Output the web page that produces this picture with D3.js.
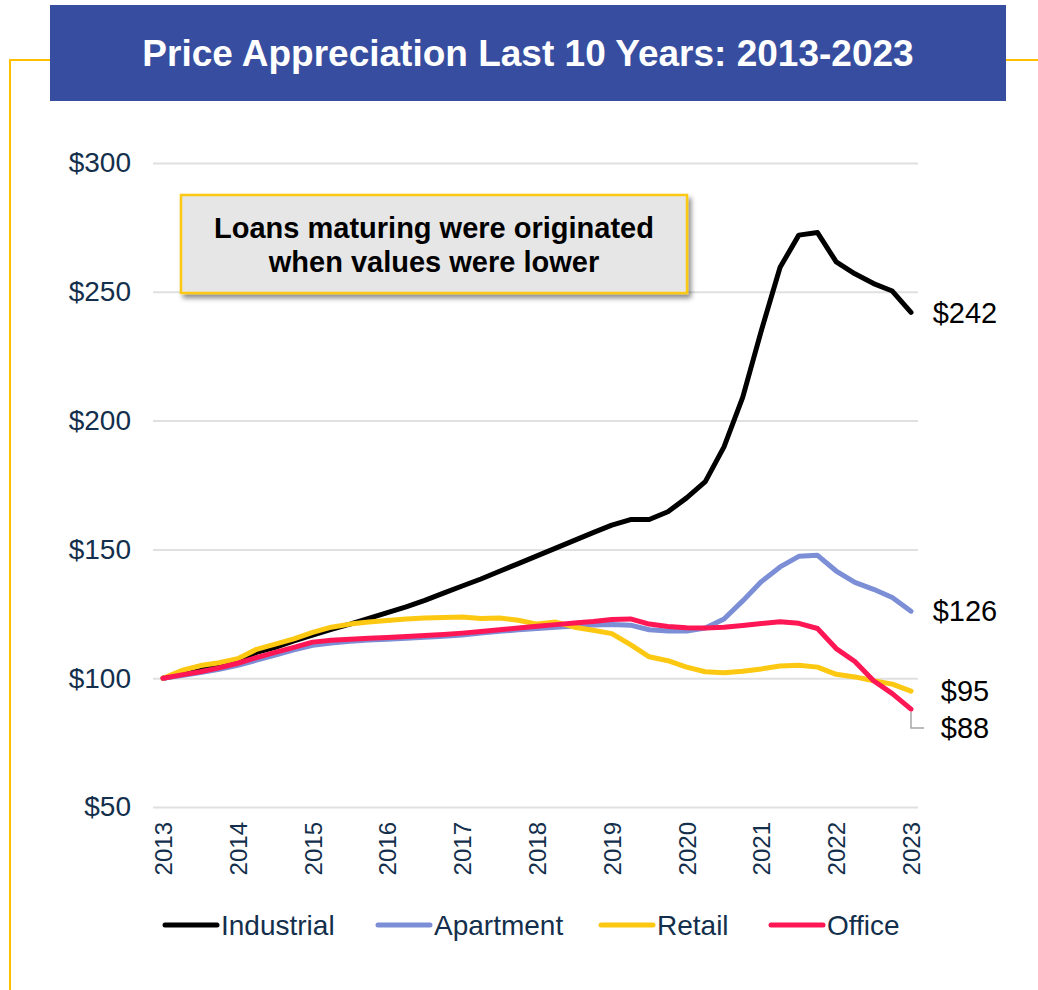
<!DOCTYPE html>
<html>
<head>
<meta charset="utf-8">
<script src="https://cdn.jsdelivr.net/npm/d3@7"></script>
<style>
  html, body { margin: 0; padding: 0; background: #ffffff; }
  svg { display: block; font-family: "Liberation Sans", Arial, sans-serif; }
</style>
</head>
<body>
<svg id="chart" width="1038" height="990"></svg>
<script>
// Quarterly price index, 2013 Q1 = 100
const startYear = 2013;
const yearTicks = [2013, 2014, 2015, 2016, 2017, 2018, 2019, 2020, 2021, 2022, 2023];
const valueTicks = [50, 100, 150, 200, 250, 300];

const industrial = [100, 101.5, 103, 105, 107, 110, 112, 114.5, 116.7, 119, 121, 123.2, 125.5, 127.7, 130.2, 133, 135.8, 138.5, 141.5, 144.5, 147.5, 150.5, 153.5, 156.5, 159.4, 161.6, 161.6, 164.6, 170, 176.3, 189.8, 209, 235, 259.5, 272, 273, 261.6, 257, 253.2, 250.3, 242];
const apartment = [100, 101, 102.2, 103.5, 105, 107, 109, 111, 112.8, 113.7, 114.3, 114.8, 115.1, 115.5, 115.9, 116.3, 116.8, 117.5, 118.2, 118.8, 119.3, 119.8, 120.3, 120.7, 120.8, 120.6, 118.8, 118.3, 118.3, 119.5, 123, 130, 137.5, 143.2, 147.3, 147.7, 141.6, 137.2, 134.5, 131.3, 126];
const retail = [100, 103, 104.9, 106, 107.6, 111.2, 113.2, 115.3, 117.8, 119.8, 121, 121.8, 122.4, 123, 123.4, 123.6, 123.8, 123.2, 123.4, 122.5, 121, 121.8, 119.8, 118.6, 117.3, 113, 108.3, 106.8, 104.3, 102.5, 102.1, 102.7, 103.6, 104.7, 105, 104.3, 101.5, 100.5, 99, 97.7, 95];
const office = [100, 101.3, 102.5, 104, 105.8, 108, 110, 112, 114, 114.7, 115.1, 115.5, 115.8, 116.2, 116.6, 117, 117.5, 118.1, 118.8, 119.5, 120.2, 120.8, 121.4, 122, 122.8, 123, 121, 120.1, 119.6, 119.5, 119.8, 120.5, 121.2, 121.9, 121.3, 119.3, 111.5, 106.5, 99, 94, 88];

const seriesNames = ["Industrial", "Apartment", "Retail", "Office"];
const seriesValues = [industrial, apartment, retail, office];
const seriesColors = ["#000000", "#7b8ed6", "#fcc812", "#ff1654"];

const title = "Price Appreciation Last 10 Years: 2013-2023";
const noteLines = ["Loans maturing were originated", "when values were lower"];

const svg = d3.select("#chart");
const navy = "#132f4c";

// frame and title bar
const frame = "#ffc000";
svg.append("path")
  .attr("d", "M10,990 L10,60 L50,60 M1006,60 L1038,60")
  .attr("fill", "none").attr("stroke", frame).attr("stroke-width", 2);
svg.append("rect").attr("x", 50).attr("y", 5).attr("width", 956).attr("height", 96).attr("fill", "#374ea0");
svg.append("text")
  .attr("x", 528).attr("y", 66)
  .attr("text-anchor", "middle")
  .attr("fill", "#ffffff").attr("font-weight", "bold").attr("font-size", 37)
  .text(title);

// scales
const x = d3.scaleLinear().domain([2013, 2023]).range([163, 911]);
const y = d3.scaleLinear().domain([50, 300]).range([807, 163]);

// gridlines and value axis
const yAxis = d3.axisLeft(y).tickValues(valueTicks).tickSize(-(918 - 153)).tickFormat(d => "$" + d);
const gy = svg.append("g").attr("transform", "translate(153,0)").call(yAxis);
gy.select(".domain").remove();
gy.selectAll(".tick line").attr("stroke", "#e0e0e0").attr("stroke-width", 2);
gy.selectAll(".tick text")
  .attr("x", -22).attr("fill", navy).attr("font-size", 28)
  .attr("font-family", "Liberation Sans, Arial, sans-serif");

// year axis, labels rotated
const xAxis = d3.axisBottom(x).tickValues(yearTicks).tickSize(0).tickFormat(d3.format("d"));
const gx = svg.append("g").attr("transform", "translate(0,807)").call(xAxis);
gx.select(".domain").remove();
gx.selectAll(".tick text")
  .attr("transform", "rotate(-90)")
  .attr("x", -15).attr("y", 0).attr("dy", "0.35em")
  .attr("text-anchor", "end")
  .attr("fill", navy).attr("font-size", 24)
  .attr("font-family", "Liberation Sans, Arial, sans-serif");

// annotation box with drop shadow
const defs = svg.append("defs");
const f = defs.append("filter").attr("id", "shadow").attr("x", "-10%").attr("y", "-20%").attr("width", "130%").attr("height", "160%");
f.append("feDropShadow").attr("dx", 3).attr("dy", 4).attr("stdDeviation", 2.5).attr("flood-color", "#000").attr("flood-opacity", 0.45);
svg.append("rect")
  .attr("x", 181).attr("y", 195).attr("width", 506).attr("height", 98)
  .attr("fill", "#e6e6e6").attr("stroke", "#fcc812").attr("stroke-width", 2.5)
  .attr("filter", "url(#shadow)");
svg.append("text")
  .attr("x", 434).attr("y", 238)
  .attr("text-anchor", "middle").attr("font-weight", "bold").attr("font-size", 29).attr("fill", "#000")
  .selectAll("tspan").data(noteLines).join("tspan")
  .attr("x", 434).attr("dy", (d, i) => i === 0 ? 0 : 34)
  .text(d => d);

// series lines
const line = d3.line()
  .x((d, i) => x(startYear + i / 4))
  .y(d => y(d));
svg.append("g").selectAll("path")
  .data(seriesValues).join("path")
  .attr("d", d => line(d))
  .attr("fill", "none")
  .attr("stroke", (d, i) => seriesColors[i])
  .attr("stroke-width", 5)
  .attr("stroke-linejoin", "round")
  .attr("stroke-linecap", "round");

// end-of-series value labels
const lastX = x(startYear + (industrial.length - 1) / 4);
const labelShift = [0, 0, 0, 19];
seriesValues.forEach((vals, i) => {
  const v = vals[vals.length - 1];
  svg.append("text")
    .attr("x", 965).attr("y", y(v) + labelShift[i])
    .attr("dy", "0.35em")
    .attr("text-anchor", "middle")
    .attr("font-size", 29).attr("fill", "#000")
    .text("$" + d3.format("d")(v));
});
// leader line for the office label
const officeEnd = office[office.length - 1];
svg.append("path")
  .attr("d", `M${lastX},${y(officeEnd) + 3} L${lastX},${y(officeEnd) + 19} L${lastX + 13},${y(officeEnd) + 19}`)
  .attr("fill", "none").attr("stroke", "#a6a6a6").attr("stroke-width", 1.5);

// legend
const legend = svg.append("g").attr("transform", "translate(0,925)");
const legendX = [163, 376, 599, 769];
seriesNames.forEach((name, i) => {
  const g = legend.append("g").attr("transform", `translate(${legendX[i]},0)`);
  g.append("line").attr("x1", 2).attr("x2", 54).attr("y1", 0).attr("y2", 0)
    .attr("stroke", seriesColors[i]).attr("stroke-width", 5).attr("stroke-linecap", "round");
  g.append("text").attr("x", 58).attr("y", 0).attr("dy", "0.35em")
    .attr("font-size", 28).attr("fill", navy).text(name);
});
</script>
</body>
</html>
